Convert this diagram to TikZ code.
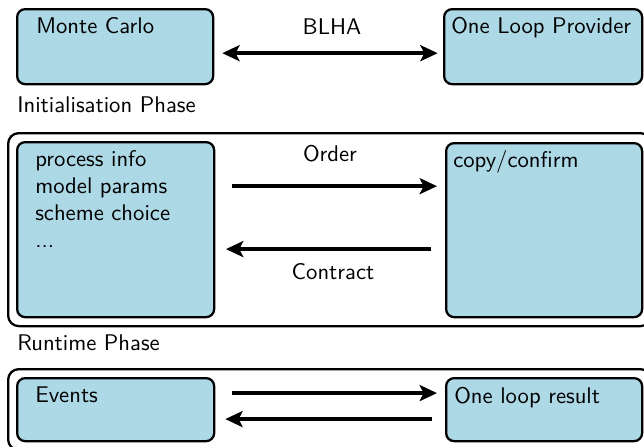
\documentclass[tikz,border=0pt]{standalone}
\usepackage{fontspec}
\usetikzlibrary{arrows.meta}
% sans face at its 10pt design size, scaled up
\newfontfamily\diagfont{lmsans10-regular.otf}
\definecolor{boxfill}{RGB}{173,216,230}
\begin{document}
\begin{tikzpicture}[x=0.75pt,y=-0.75pt,
  every node/.style={font=\diagfont\fontsize{17pt}{20pt}\selectfont, inner sep=0pt},
  box/.style={draw=black, line width=1.7pt, fill=boxfill, rounded corners=6pt, anchor=north west},
  frame/.style={draw=black, line width=1.7pt, rounded corners=8pt, anchor=north west},
  txt/.style={anchor=base west},
  lbl/.style={anchor=base},
  arr/.style={line width=3pt, -{Stealth[length=13pt,width=12pt,inset=3pt]}},
  dbl/.style={line width=3pt, {Stealth[length=13pt,width=12pt,inset=3pt]}-{Stealth[length=13pt,width=12pt,inset=3pt]}}
]
\useasboundingbox (0,0) rectangle (644,447);

% Initialisation phase
\node[box, minimum width=196*0.75pt, minimum height=75*0.75pt] (mc) at (16,8) {};
\node[box, minimum width=198*0.75pt, minimum height=75*0.75pt] (olp) at (443,8) {};
\node[txt] (mctxt) at (36,33) {Monte Carlo};
\node[txt] (olptxt) at (451,33) {One Loop Provider};
\draw[dbl, shorten <=6pt, shorten >=4pt] ([yshift=-4.9pt]mc.east) -- ([yshift=-4.9pt]olp.west);
\node[lbl] (blha) at (332,34) {BLHA};
\node[txt] (initlbl) at (17,112) {Initialisation Phase};

% Runtime phase: process negotiation
\node[frame, minimum width=643*0.75pt, minimum height=193*0.75pt] (runframe) at (7,132) {};
\node[box, minimum width=197*0.75pt, minimum height=175*0.75pt] (order) at (16,141) {};
\node[box, minimum width=196*0.75pt, minimum height=174*0.75pt] (confirm) at (445,142) {};
\node[txt] (l1) at (35,166) {process info};
\node[txt] (l2) at (35,193) {model params};
\node[txt] (l3) at (35,220) {scheme choice};
\node[txt] (l4) at (35,247) {...};
\node[txt] (cc) at (453,167) {copy/confirm};
\draw[arr, shorten <=12.7pt, shorten >=6pt] ([yshift=32.6pt]order.east) -- ([yshift=32.6pt]confirm.west |- order.east);
\draw[arr, shorten <=10.5pt, shorten >=8pt] ([yshift=-14.6pt]confirm.west |- order.east) -- ([yshift=-14.6pt]order.east);
\node[lbl] (ordlbl) at (330,161) {Order};
\node[lbl] (conlbl) at (333,279) {Contract};
\node[txt] (runlbl) at (17,350) {Runtime Phase};

% Runtime phase: event evaluation
\node[frame, minimum width=643*0.75pt, minimum height=81*0.75pt] (evframe) at (7,368) {};
\node[box, minimum width=197*0.75pt, minimum height=63*0.75pt] (ev) at (16,377) {};
\node[box, minimum width=196*0.75pt, minimum height=63*0.75pt] (res) at (445,377) {};
\node[txt] (evtxt) at (35,402) {Events};
\node[txt] (restxt) at (454,403) {One loop result};
\draw[arr, shorten <=12.7pt, shorten >=6pt] ([yshift=12.4pt]ev.east) -- ([yshift=12.4pt]res.west);
\draw[arr, shorten <=9.8pt, shorten >=7.5pt] ([yshift=-7.1pt]res.west) -- ([yshift=-7.1pt]ev.east);
\end{tikzpicture}
\end{document}
